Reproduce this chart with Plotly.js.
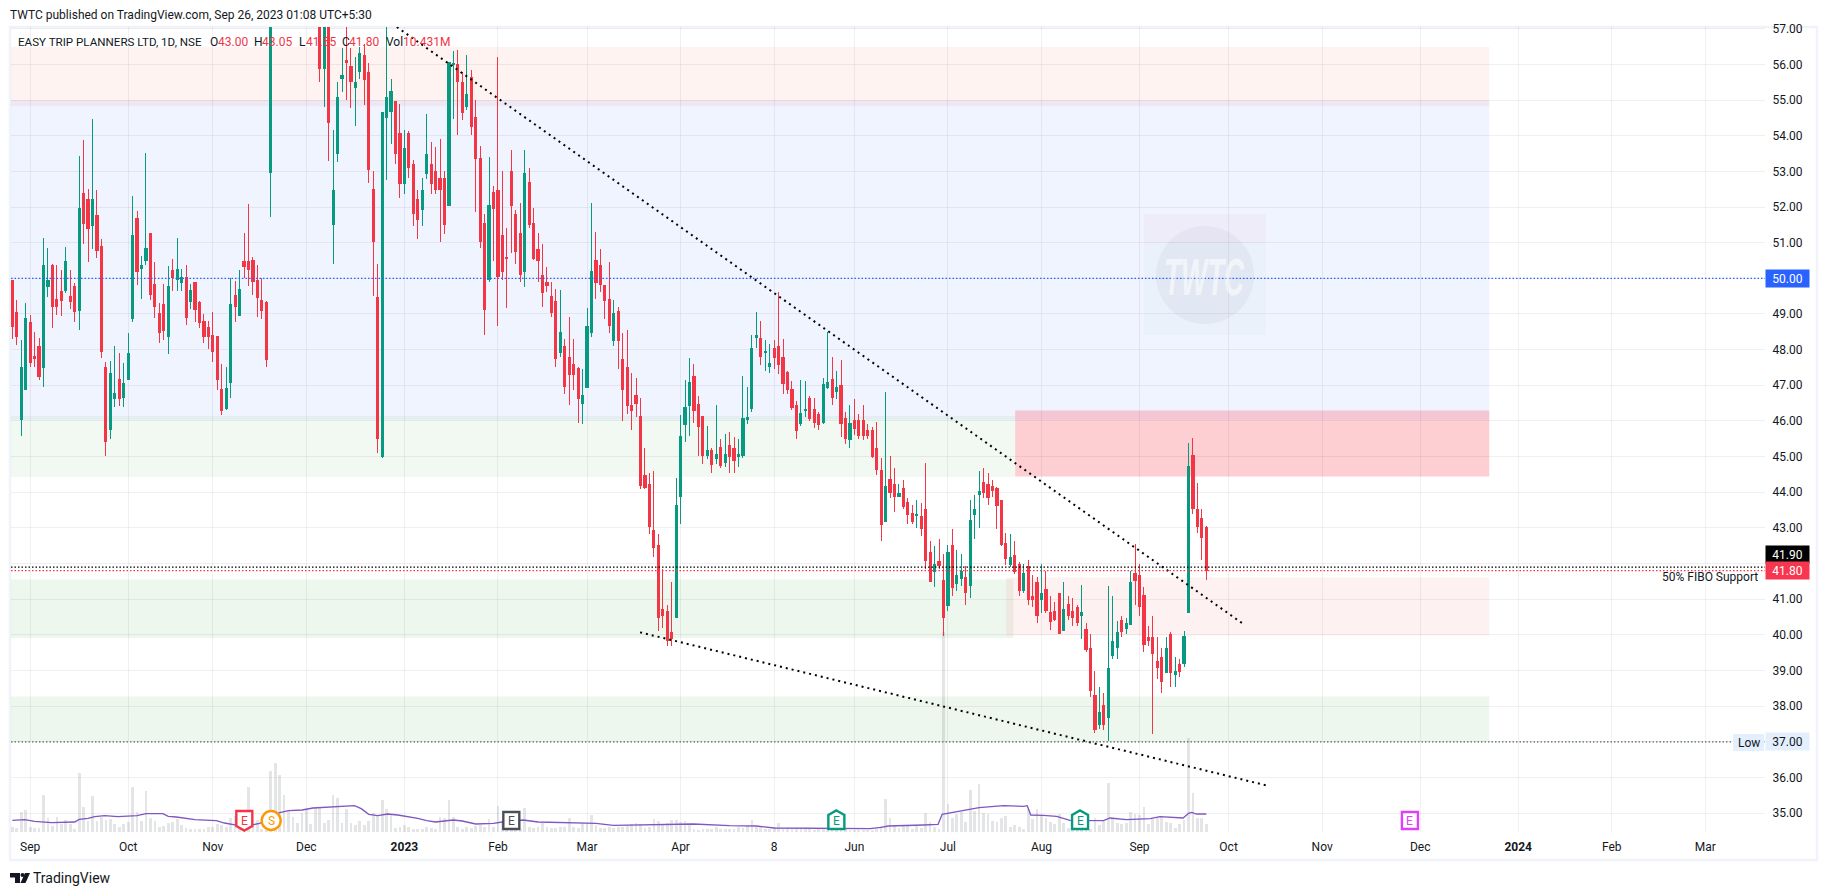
<!DOCTYPE html>
<html>
<head>
<meta charset="utf-8">
<script src="https://cdn.plot.ly/plotly-3.0.1.min.js"></script>
<style>
  html, body { margin: 0; padding: 0; background: #fff; overflow: hidden; }
  #chart { width: 1827px; height: 896px; }
</style>
</head>
<body>
<div id="chart"></div>
<script>
// Daily candles, one row per ten bars
const opens = [
  49.93,49.03,46.03,46.87,48.75,47.8,48.1,47.49,49.78,50.35,
  49.42,49.62,49.67,49.5,49.76,49.11,52.39,52.2,51.47,51.75,
  50.88,47.51,45.75,46.64,47.15,46.67,47.15,48.86,51.69,50.29,
  50.49,51.27,49.84,49,49.28,48.36,50.23,49.98,49.87,50.01,
  49.34,49.87,49.31,48.78,48.61,48.41,48.38,46.87,46.34,47.09,
  49.53,48.97,50.46,50.46,50.51,49.93,49.39,49.31,52.98,59,
  60.5,59.4,58.4,60,58.6,59.6,58.4,57.9,59,58,
  55.9,57.6,51.5,53.49,55.6,56.12,55.93,55.34,55.79,56.26,
  55.76,52.5,49.45,44.99,54.5,54.69,54.97,54.07,52.67,54.07,
  53.2,52.22,51.94,52.93,53.2,53,52.81,52.81,52.03,56.01,
  56.01,55.48,54.83,55.62,54.52,53.37,51.55,49.98,52.42,52.45,
  51.21,50.59,53.01,51.8,51.27,50.18,52.7,51.55,50.82,50.07,
  49.87,49.5,49.36,47.93,48.1,47.77,47.57,47.46,46.48,46.93,
  48.47,50.51,50.37,49.81,49.42,48.27,49.06,47.71,47.51,46.42,
  46.7,46.12,44.47,44.22,42.93,42.51,40.71,40.66,40.07,40.49,
  43.88,45.9,46.42,47.26,46.46,46.12,45.03,45.17,44.95,45.25,
  44.83,45.31,45.23,45,45.03,46.03,46.34,48.33,48.3,47.93,
  47.54,48.02,48.1,47.79,47.35,46.87,46.42,45.92,46.28,46.62,
  46.31,46.17,45.97,46.93,47.15,46.84,47,46.06,45.47,46,
  46,46,45.72,45.73,45.23,44.61,43.18,44.36,44.22,43.88,
  44.1,43.71,43.4,43.35,43.32,43.52,42.31,41.78,42.06,41.53,
  40.83,42.51,41.44,41.58,41.61,41.39,43.38,43.94,44.27,44.22,
  44.16,44.1,43.77,42.56,41.97,42.23,41.97,41.25,41.92,41.08,
  41.47,40.99,41.27,40.63,40.66,41.16,40.12,40.85,40.66,40.77,
  40.54,40.15,39.62,38.3,37.49,38.02,37.69,39.42,39.65,40.4,
  40.18,40.29,41.72,41.67,41.1,39.93,39.93,39.26,39.37,38.95,
  40.01,38.89,39.17,39.2,40.63,45.03,43.52,43.27,43
];
const highs = [
  49.93,49.4,48.27,49.31,48.97,48.5,48.33,51.13,50.85,50.4,
  50.37,50.23,50.88,50.23,49.87,53.43,53.88,52.5,54.47,52.48,
  51.1,47.65,47.68,48.1,47.9,47.63,48.47,52.31,51.89,50.64,
  53.51,51.27,50.46,49.31,49.84,50.35,50.54,51.13,50.26,50.37,
  49.84,49.87,49.36,49,48.8,49.06,48.38,47.6,47.51,50,
  49.93,50.23,51.27,52.08,50.6,50.37,50,49.36,60,61,
  62,60.3,60.6,60.8,60.2,60,59.2,59.5,59.4,58.5,
  58.2,58,54.16,55.5,56.46,57.3,56.46,56.2,56.5,56.57,
  56.03,53,50.4,54.66,57.3,55.6,54.97,54.9,54.16,54.13,
  53.32,52.48,52.81,54.61,53.82,53.68,53.9,53,56.05,56.37,
  56.4,55.8,56.26,55.84,55,53.71,51.8,53.4,52.6,56.2,
  53,51.41,53.6,51.92,52.11,53.6,53.1,51.97,51.27,50.96,
  50.32,49.9,49.7,49.67,48.3,48.92,48.3,47.51,47.46,49.17,
  52.11,51.3,50.82,49.81,50.46,49.4,49.2,48.47,48.55,47.35,
  47.2,46.64,45.23,44.55,44.61,42.82,41.86,40.85,41.47,44.41,
  46.18,47.15,47.77,47.6,46.7,46.12,45.87,45.25,46.46,45.5,
  45.62,45.68,45.56,45.48,47.26,46.95,48.41,49.06,48.8,48.27,
  48.16,48.27,49.62,48.3,47.4,47.12,46.56,47.15,47.12,46.7,
  46.64,46.25,47.2,48.5,47.79,47.4,47.7,46.25,46.45,46.62,
  46.2,46.45,45.92,45.82,45.96,44.97,46.81,45.03,44.67,44.22,
  44.33,43.83,43.63,43.77,43.71,44.81,42.62,42.48,42.7,42.26,
  42.51,42.96,42.37,42.26,41.92,43.77,43.91,44.61,44.67,44.53,
  44.33,44.16,43.77,42.87,42.82,42.62,42.03,42,42.11,41.67,
  41.61,42,41.8,41.08,40.91,41.16,41.47,41.08,41.02,40.83,
  41.41,40.32,40.01,39,38.53,38.36,41.36,41.08,40.4,40.54,
  40.46,41.8,42.56,42,41.33,40.26,40.52,39.93,39.62,39.93,
  40.07,39.37,39.31,40.12,45.37,45.51,44.27,43.52,43.05
];
const lows = [
  48.3,48.13,45.58,46.87,47.51,47.5,47.15,46.95,49.48,48.6,
  48.97,48.94,49.59,49.14,48.78,48.55,50.96,50.46,50.82,50.57,
  47.77,45.02,45.5,46.39,46.42,46.39,47.15,48.78,49.81,49.42,
  50.37,49.39,48.89,48.19,48.27,47.88,49.64,49.64,49.64,48.69,
  49.14,48.78,48.61,48.19,48.02,47.65,46.87,46.17,46.31,46.64,
  48.78,48.94,50,49.78,49.53,48.92,48.86,47.51,51.72,58.2,
  58.5,57.9,58,58.3,58.1,58,57.6,57.5,57.6,55.5,
  54.8,53.3,50.4,53.26,55.22,55,54.78,54.27,55.6,54.86,
  52.67,49.5,45.1,44.96,52.76,53.77,53.2,52.25,52.36,52.81,
  51.47,51.1,51.47,52.8,52.36,52.36,51.02,51.24,52.03,54.47,
  54.02,54.44,54.72,54.02,51.86,50.85,48.41,49.9,50.5,48.66,
  49.95,49.17,50.7,50.4,49.9,49.76,51.41,50.51,49.9,49.2,
  49.62,48.92,47.51,47.79,46.76,46.45,46.87,45.94,45.92,46.93,
  48.36,49.42,49.62,48.86,48.47,48.1,47.46,46,46.2,45.75,
  46.1,44.1,44.08,42.82,42.17,40.12,40.2,39.7,39.7,40.49,
  43.12,45.42,45.57,45.93,45.03,44.8,44.92,44.53,44.78,44.67,
  44.72,44.55,44.53,44.72,44.97,45.92,46.25,48.05,47.57,47.4,
  47.35,47.46,47.32,46.76,46.76,46.31,45.5,45.86,46.11,46,
  45.8,45.75,45.92,46.9,46.45,46.62,45.55,45.36,45.24,45.61,
  45.5,45.47,45.5,44.97,44.47,42.62,43.18,43.83,43.46,43.88,
  43.54,43.12,43.12,43.01,42.76,41.86,41.47,41.33,41.86,39.96,
  40.66,41.1,41.22,41.36,40.85,41.02,42.7,43.01,43.83,43.63,
  43.88,42.96,42.48,41.97,41.89,41.72,41.08,41.16,40.85,40.77,
  40.32,40.61,40.6,40.15,40.38,40.01,40.12,40.43,40.24,40.26,
  39.87,39.51,38.27,37.26,37.35,37.32,37.01,39.31,39.31,39.93,
  40.01,40.29,40.83,40.52,39.51,39.68,37.21,38.75,38.36,38.92,
  38.53,38.53,38.81,39.11,40.63,43.4,42.87,42.11,41.55
];
const closes = [
  48.64,48.36,47.49,48.86,47.63,47.74,47.26,50.37,49.93,49.22,
  49.2,49.39,50.46,49.34,49.08,51.97,51.55,51.41,52.22,50.77,
  47.96,45.41,47.32,46.76,46.64,47.04,47.88,51.19,50.2,50.35,
  50.85,49.56,49.2,48.47,48.55,49.76,50.01,50.26,50.01,48.89,
  49.67,49.14,48.75,48.36,48.36,47.96,47.15,46.28,46.9,49.28,
  49.2,49.7,50.32,50.26,49.9,49.45,49.11,47.71,59,60.5,
  59,58.4,60,58.6,59.6,58.3,57.9,59,58,55.9,
  57.6,54.38,52.45,55.06,55.7,56.05,55.53,55.5,56.32,55.59,
  53.04,51.02,45.52,54.66,55.06,55.25,53.49,52.67,53.63,53.12,
  51.83,51.64,52.45,53.46,52.67,52.48,52.48,51.5,56.05,56.03,
  55.53,54.64,55.17,54.27,53.35,51.02,49.14,52.05,51.97,50.04,
  50.18,50.55,52.03,50.74,50.12,52.95,51.52,50.57,50.49,49.59,
  49.79,49.03,47.74,48.47,46.98,47.29,47.29,46.62,46.7,48.66,
  50.2,49.87,49.84,49.39,48.69,49,48.27,46.87,46.42,46.28,
  46.48,44.19,44.13,43.04,42.45,40.49,40.54,39.84,39.9,43.63,
  45.56,46.38,47.07,46.28,45.84,45.03,45.17,44.78,45.06,44.75,
  45.06,45,44.89,45.06,46.07,46.11,48.02,48.41,47.82,47.96,
  47.6,47.77,47.57,47.04,46.87,46.39,45.72,46.2,46.31,46.08,
  45.97,45.89,47.01,47.07,46.67,46.95,45.92,45.52,45.94,45.78,
  45.58,45.58,45.58,45,44.64,43.1,44.16,43.99,43.88,43.97,
  43.6,43.38,43.18,43.38,42.98,42.09,41.5,41.97,41.95,40.49,
  42.31,41.33,41.67,41.78,41.19,43.21,43.52,44.02,43.99,43.85,
  44.05,43.63,42.54,42.14,42.17,41.78,41.25,41.72,40.99,40.99,
  40.54,41.16,40.69,40.38,40.43,40.04,40.71,40.54,40.49,40.35,
  40.63,39.59,38.44,37.35,37.83,37.49,39.06,39.82,40.07,40.1,
  40.32,41.47,41.53,40.8,39.73,39.84,39.48,39.09,38.69,39.62,
  38.95,38.97,38.97,39.96,44.72,43.54,43.04,42.73,41.8
];

// Volume, in units of about 0.45M (the last bar is 10.431M)
const volumes = [
  16,12,60,65,16,12,12,110,41,18,
  44,24,36,24,8,178,74,32,107,32,
  44,36,40,24,14,24,30,134,59,32,
  124,41,34,16,18,26,30,38,20,13,
  8,10,8,8,14,16,24,20,16,43,
  48,10,8,134,26,36,8,8,182,208,
  170,110,66,46,26,58,70,24,72,72,
  26,36,110,101,26,68,26,20,34,20,
  32,58,48,95,68,53,13,16,20,16,
  8,8,8,16,12,8,44,41,95,46,
  16,8,16,12,18,20,16,40,14,77,
  33,8,8,8,8,73,14,12,16,30,
  16,12,12,16,14,43,14,12,26,26,
  52,22,12,12,14,12,16,14,18,24,
  28,24,12,14,38,32,20,26,36,36,
  30,32,24,10,6,8,8,10,14,8,
  8,10,10,14,12,18,37,16,14,8,
  8,14,28,10,12,10,8,10,8,8,
  6,8,8,8,8,8,8,8,6,6,
  6,6,6,6,8,18,98,41,20,12,
  18,18,8,18,12,57,29,16,8,600,
  83,41,55,60,30,125,63,143,57,53,
  32,30,42,47,15,20,14,10,68,38,
  68,52,42,30,23,53,28,12,8,8,
  8,8,10,43,20,34,146,42,26,23,
  26,59,53,50,74,23,38,46,46,30,
  26,13,23,35,281,116,41,41,23
];

// Volume average line, bends
const volAvgBars = [0,2.8,5,8.8,14,15,17,18.5,20.7,23.7,28,30,33.8,35,36.8,41,45.8,47.6,50.6,52,55.5,60,62,65,67.5,71.6,73.8,76.8,78.3,80,82,84.3,86.5,89.3,91,93,95,99,101,104,108,110,114.7,118,125,131,134.9,141.6,147.6,152.9,161,167,171,181,192.5,195,196.6,204.5,207.8,208.7,212,214,215.7,217,222.5,227,227.8,228.6,231.4,234.4,237.4,242.3,244.9,246.4,250,255.4,257.6,262.8,264,264.7,265.8,268];
const volAvgValues = [35,37,32,28,30,38,41,46,49,46,49,55,55,47,45,37,34,27,20,16,26,58,64,66,72,76,77,79,70,53,49,54,51,45,41,34,30,36,33,24,26,30,36,30,29,26,20,21,24,24,19,18,12,11,10,14,18,21,23,53,61,66,68,73,79,77,79,51,50,47,35,33,34,42,37,40,46,42,56,59,54,54];

// Axis ticks; the scale labels at 37, 42 and 50 are covered by value boxes in the picture
const priceTicks = [35,36,37,38,39,40,41,42,43,44,45,46,47,48,49,50,51,52,53,54,55,56,57];
const priceTickLabels = ['35.00','36.00','','38.00','39.00','40.00','41.00','','43.00','44.00','45.00','46.00','47.00','48.00','49.00','','51.00','52.00','53.00','54.00','55.00','56.00','57.00'];
const timeTickBars = [4,26,45,66,88,109,129,150,171,189,210,231,253,273,294,316,338,359,380];
const timeTickLabels = ['Sep','Oct','Nov','Dec','<b>2023</b>','Feb','Mar','Apr','8','Jun','Jul','Aug','Sep','Oct','Nov','Dec','<b>2024</b>','Feb','Mar'];

// Drawn trend lines
const upperTrendBars = [86.3, 276.7];
const upperTrendPrices = [57.05, 40.27];
const lowerTrendBars = [140.9, 281.4];
const lowerTrendPrices = [40.07, 35.78];

// Earnings / split badges
const badgeBars = [52.07, 58.1, 112, 184.96, 239.66, 313.7];
const badgeLabels = ['E', 'S', 'E', 'E', 'E', 'E'];
const badgeColors = ['#f23645', '#ff9800', '#4a4e5a', '#089981', '#089981', '#e040fb'];
const badgeKinds = ['down', 'circle', 'box', 'up', 'up', 'box'];

// Legend row
const legendKeys = ['O', 'H', 'L', 'C', 'Vol'];
const legendValues = ['43.00', '43.05', '41.55', '41.80', '10.431M'];

const W = 1827, H = 896;
const M = { l: 11, r: 62, t: 27, b: 64 };
const PW = W - M.l - M.r, PH = H - M.t - M.b;
const xRange = [-0.3, 393.4];
const priceRange = [34.47, 57.05];
const textFont = 'Roboto, sans-serif';
const ink = '#131722';

// Screen pixel to paper fraction
const px = v => (v - M.l) / PW;
const py = v => (H - M.b - v) / PH;
const barPx = b => M.l + (b - xRange[0]) / (xRange[1] - xRange[0]) * PW;

function zone(x0, x1, y0, y1, color) {
    return { type: 'rect', layer: 'below', xref: 'x', yref: 'y2', x0, x1, y0, y1,
             fillcolor: color, line: { width: 0 } };
}

function hline(price, color) {
    return { type: 'line', layer: 'above', xref: 'paper', yref: 'y2', x0: 0, x1: 1, y0: price, y1: price,
             line: { color, width: 1.2, dash: '1.5px,2px' } };
}

function pixelPath(points) {
    return 'M' + points.map(p => px(p[0]) + ',' + py(p[1])).join('L') + 'Z';
}

function pixelRect(x0, y0, x1, y1, fill, line) {
    return { type: 'rect', xref: 'paper', yref: 'paper', x0: px(x0), x1: px(x1), y0: py(y0), y1: py(y1),
             fillcolor: fill, line: line || { width: 0 } };
}

function badgeShape(i) {
    const c = barPx(badgeBars[i]);
    const line = { color: badgeColors[i], width: 2.4 };
    const base = { xref: 'paper', yref: 'paper', fillcolor: '#ffffff', line, layer: 'above' };
    if (badgeKinds[i] === 'circle') {
        return { ...base, type: 'circle', x0: px(c - 9.5), x1: px(c + 9.5), y0: py(811), y1: py(830) };
    }
    let pts;
    if (badgeKinds[i] === 'down') {
        pts = [[c - 8, 811], [c + 8, 811], [c + 8, 826], [c, 830.5], [c - 8, 826]];
    } else if (badgeKinds[i] === 'up') {
        pts = [[c, 810.5], [c + 8, 815], [c + 8, 829], [c - 8, 829], [c - 8, 815]];
    } else {
        pts = [[c - 8, 812], [c + 8, 812], [c + 8, 829], [c - 8, 829]];
    }
    return { ...base, type: 'path', path: pixelPath(pts) };
}

const candleTrace = {
    type: 'candlestick',
    x: opens.map((_, i) => i),
    open: opens, high: highs, low: lows, close: closes,
    yaxis: 'y2',
    width: 0.42,
    whiskerwidth: 0,
    increasing: { line: { color: '#089981', width: 1 }, fillcolor: '#089981' },
    decreasing: { line: { color: '#f23645', width: 1 }, fillcolor: '#f23645' },
    hoverinfo: 'skip'
};

const volumeTrace = {
    type: 'bar',
    x: volumes.map((_, i) => i),
    y: volumes,
    yaxis: 'y',
    width: 0.62,
    marker: { color: 'rgba(120,123,134,0.2)' },
    hoverinfo: 'skip'
};

const volAvgTrace = {
    type: 'scatter', mode: 'lines',
    x: volAvgBars, y: volAvgValues, yaxis: 'y',
    line: { color: '#7e57c2', width: 1.3 },
    hoverinfo: 'skip'
};

function trendTrace(xs, ys) {
    return {
        type: 'scatter', mode: 'lines', x: xs, y: ys, yaxis: 'y2',
        line: { color: '#000000', width: 2, dash: '2px,4px' },
        hoverinfo: 'skip'
    };
}

const shapes = [
    // price zones
    zone(-2, 331.5, 54.83, 56.49, 'rgba(242,80,54,0.07)'),
    zone(-2, 331.5, 46.03, 55, 'rgba(41,98,255,0.07)'),
    zone(-2, 225.1, 44.43, 46.14, 'rgba(76,175,80,0.075)'),
    zone(-2, 224.7, 39.91, 41.55, 'rgba(76,175,80,0.1)'),
    zone(-2, 331.5, 37, 38.27, 'rgba(76,175,80,0.1)'),
    zone(225.1, 331.5, 44.44, 46.29, 'rgba(247,60,75,0.25)'),
    zone(223.1, 331.5, 39.98, 41.61, 'rgba(242,54,69,0.07)'),
    // watermark
    { ...pixelRect(1144, 214, 1266, 243, 'rgba(233,30,99,0.035)'), layer: 'below' },
    { ...pixelRect(1144, 243, 1266, 335, 'rgba(76,175,80,0.03)'), layer: 'below' },
    { type: 'circle', layer: 'below', xref: 'paper', yref: 'paper',
      x0: px(1156), x1: px(1254), y0: py(226), y1: py(324),
      fillcolor: 'rgba(42,46,100,0.045)', line: { width: 0 } },
    // level lines
    hline(50, '#2962ff'),
    hline(41.9, '#000000'),
    hline(41.8, '#f23645'),
    hline(37, '#4f6b57'),
    // frame round the whole chart
    { ...pixelRect(10, 27, 1817, 860, 'rgba(0,0,0,0)', { color: '#f0f3fa', width: 2.5 }), layer: 'below' },
    // value boxes on the price scale
    { ...pixelRect(1733, 734, 1764, 751, '#e3effd'), layer: 'above' },
    // TradingView logo
    { type: 'path', xref: 'paper', yref: 'paper', fillcolor: '#131722', line: { width: 0 },
      path: pixelPath([[10, 873], [20, 873], [20, 883], [15, 883], [15, 877.5], [10, 877.5]]) },
    { type: 'circle', xref: 'paper', yref: 'paper', fillcolor: '#131722', line: { width: 0 },
      x0: px(20.5), x1: px(24.5), y0: py(873), y1: py(877) },
    { type: 'path', xref: 'paper', yref: 'paper', fillcolor: '#131722', line: { width: 0 },
      path: pixelPath([[25, 873], [30, 873], [25.5, 883], [20.5, 883]]) }
].concat(badgeBars.map((_, i) => badgeShape(i)));

function textAt(x, y, text, size, color, extra) {
    return Object.assign({
        xref: 'paper', yref: 'paper', x: px(x), y: py(y), text,
        showarrow: false, xanchor: 'left', yanchor: 'middle',
        font: { family: textFont, size, color }, borderpad: 0, borderwidth: 0
    }, extra || {});
}

// Label box on the price scale, pinned to its price
function priceBox(price, label, bg, fg, shift) {
    return {
        xref: 'paper', yref: 'y2', x: px(1765), y: price, yshift: shift || 0,
        text: label, showarrow: false, xanchor: 'left', yanchor: 'middle',
        width: 43, height: 17, bgcolor: bg, align: 'center', borderpad: 0,
        font: { family: textFont, size: 12, color: fg }
    };
}

const legendKeyPx = [210, 254, 299, 342, 386];
const legendValuePx = [218, 262, 306, 349, 403];
const red = '#f23645';

const annotations = [
    textAt(10, 15, 'TWTC published on TradingView.com, Sep 26, 2023 01:08 UTC+5:30', 12, ink),
    textAt(18, 42, 'EASY TRIP PLANNERS LTD, 1D, NSE', 11.6, ink)
].concat(
    legendKeys.map((k, i) => textAt(legendKeyPx[i], 42, k, 12, ink)),
    legendValues.map((v, i) => textAt(legendValuePx[i], 42, v, 12, red)),
    [
        textAt(33, 878, 'TradingView', 14, ink),
        priceBox(50, '50.00', '#2962ff', '#ffffff'),
        priceBox(41.9, '41.90', '#000000', '#ffffff', 13),
        priceBox(41.8, '41.80', '#f7374f', '#ffffff'),
        priceBox(37, '37.00', '#e3effd', ink),
        textAt(1758, 577, '50% FIBO Support', 12, ink, { xanchor: 'right' }),
        textAt(1748.5, 742.5, 'Low', 12, ink, { xanchor: 'center' }),
        // watermark lettering, squeezed to the logo's width after the plot is drawn
        textAt(1205, 277, 'TWTC', 52, 'rgba(255,255,255,0.55)', {
            xanchor: 'center', name: 'watermark',
            font: { family: '"Liberation Sans", sans-serif', size: 52, color: 'rgba(255,255,255,0.55)', weight: 700, style: 'italic' }
        })
    ],
    badgeBars.map((b, i) => ({
        xref: 'paper', yref: 'paper', x: px(barPx(b)), y: py(820.5), text: badgeLabels[i],
        showarrow: false, xanchor: 'center', yanchor: 'middle',
        font: { family: textFont, size: 12, color: badgeColors[i] }
    }))
);

const layout = {
    width: W, height: H,
    margin: M,
    paper_bgcolor: '#ffffff',
    plot_bgcolor: '#ffffff',
    showlegend: false,
    dragmode: false,
    bargap: 0,
    font: { family: textFont, size: 12, color: ink },
    xaxis: {
        range: xRange,
        tickmode: 'array', tickvals: timeTickBars, ticktext: timeTickLabels,
        showgrid: true, gridcolor: 'rgba(42,46,57,0.07)', gridwidth: 1,
        zeroline: false, showline: false,
        ticks: 'outside', ticklen: 4, tickcolor: 'rgba(0,0,0,0)',
        tickfont: { family: textFont, size: 12, color: ink },
        rangeslider: { visible: false }
    },
    yaxis: {
        range: [0, PH * 3], fixedrange: true,
        showgrid: false, zeroline: false, showline: false, showticklabels: false
    },
    yaxis2: {
        overlaying: 'y', side: 'right', range: priceRange,
        tickmode: 'array', tickvals: priceTicks, ticktext: priceTickLabels,
        showgrid: true, gridcolor: 'rgba(42,46,57,0.07)', gridwidth: 1,
        zeroline: false, showline: false,
        ticks: 'outside', ticklen: 4, tickcolor: 'rgba(0,0,0,0)',
        tickfont: { family: textFont, size: 12, color: ink }
    },
    shapes,
    annotations
};

Plotly.newPlot('chart', [
    volumeTrace,
    volAvgTrace,
    candleTrace,
    trendTrace(upperTrendBars, upperTrendPrices),
    trendTrace(lowerTrendBars, lowerTrendPrices)
], layout, { displayModeBar: false, staticPlot: true }).then(function(gd) {
    // Candles snap to whole pixels
    gd.querySelectorAll('.boxlayer path').forEach(function(p) {
        p.style.shapeRendering = 'crispEdges';
    });
    // Narrow the watermark letters to the logo's width
    gd.querySelectorAll('.annotation-text').forEach(function(t) {
        if (t.textContent === 'TWTC') {
            t.setAttribute('textLength', 80);
            t.setAttribute('lengthAdjust', 'spacingAndGlyphs');
        }
    });
});
</script>
</body>
</html>
